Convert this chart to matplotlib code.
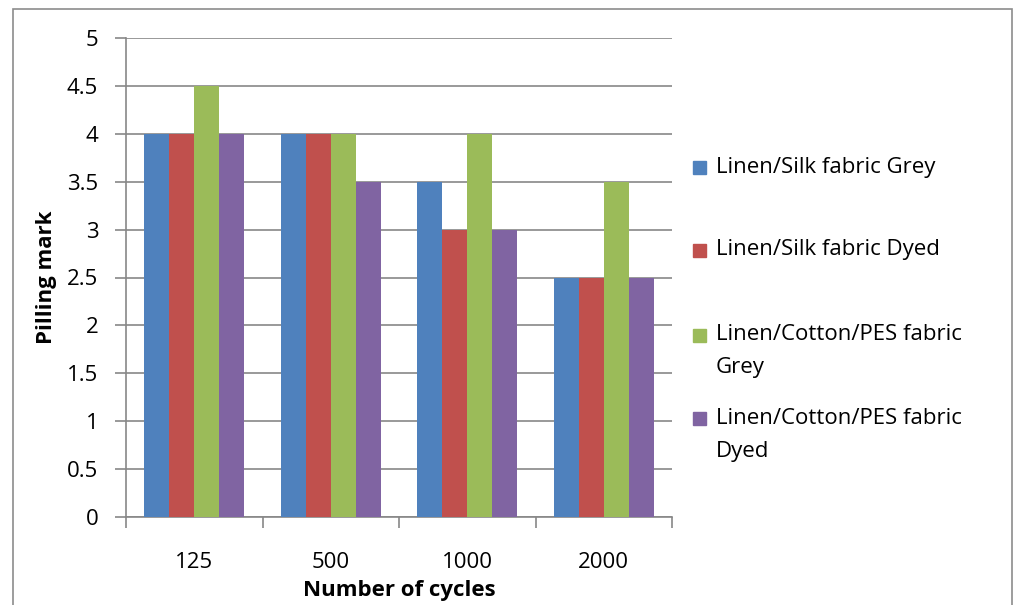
import numpy as np
import matplotlib.pyplot as plt
from matplotlib.patches import Rectangle

plt.rcParams['font.family'] = ['Open Sans', 'DejaVu Sans']

cycles = ['125', '500', '1000', '2000']
series_names = ['Linen/Silk fabric Grey', 'Linen/Silk fabric Dyed',
                'Linen/Cotton/PES fabric\nGrey', 'Linen/Cotton/PES fabric\nDyed']
silk_grey = [4, 4, 3.5, 2.5]
silk_dyed = [4, 4, 3, 2.5]
cotton_grey = [4.5, 4, 4, 3.5]
cotton_dyed = [4, 3.5, 3, 2.5]
colors = ['#4F81BD', '#C0504D', '#9BBB59', '#8064A2']

W, H = 1016, 605
fig = plt.figure(figsize=(W / 100, H / 100), dpi=100)
ax = fig.add_axes([126 / W, 1 - 517 / H, (672 - 126) / W, (517 - 38) / H])

# outer chart border
fig.patches.append(Rectangle((13 / W, -0.1), (1012 - 13) / W, 1.1 - 9 / H,
                             transform=fig.transFigure, fill=False,
                             edgecolor='#8c8c8c', linewidth=1.2))

x = np.arange(len(cycles))
w = 0.183
all_series = [silk_grey, silk_dyed, cotton_grey, cotton_dyed]
for j, vals in enumerate(all_series):
    ax.bar(x + (j - 1.5) * w, vals, width=w, color=colors[j], zorder=3)

ax.set_xlim(-0.5, 3.5)
ax.set_ylim(0, 5)
ax.set_yticks(np.arange(0, 5.01, 0.5))
ax.set_yticklabels(['0', '0.5', '1', '1.5', '2', '2.5', '3', '3.5', '4', '4.5', '5'])
ax.yaxis.grid(True, color='#878787', linewidth=1.2, zorder=0)
ax.set_axisbelow(True)

fs = 16
ax.set_xticks(x)
ax.set_xticklabels(cycles)
ax.set_xticks(np.arange(-0.5, 3.6, 1), minor=True)
ax.tick_params(axis='x', which='major', length=0, pad=25, labelsize=fs)
ax.tick_params(axis='x', which='minor', length=8, width=1.2, color='#878787', direction='out')
ax.tick_params(axis='y', length=8, width=1.2, color='#878787', pad=12, labelsize=fs)

for s in ['top', 'right']:
    ax.spines[s].set_visible(False)
for s in ['left', 'bottom']:
    ax.spines[s].set_color('#878787')
    ax.spines[s].set_linewidth(1.2)

ax.set_xlabel('Number of cycles', fontsize=fs, fontweight='bold', labelpad=5)
ax.set_ylabel('Pilling mark', fontsize=fs, fontweight='bold', labelpad=7)

# legend drawn by hand to copy the spacing of the original
legend_y = [167, 250, 335, 418]
line_h = 33
for name, c, yy in zip(series_names, colors, legend_y):
    fig.patches.append(Rectangle((693 / W, 1 - (yy + 6.5) / H), 13 / W, 13 / H,
                                 transform=fig.transFigure, color=c))
    for k, line in enumerate(name.split('\n')):
        fig.text(716 / W, 1 - (yy + k * line_h) / H, line, fontsize=fs,
                 va='center', ha='left')

fig.savefig('out.png', dpi=100)
